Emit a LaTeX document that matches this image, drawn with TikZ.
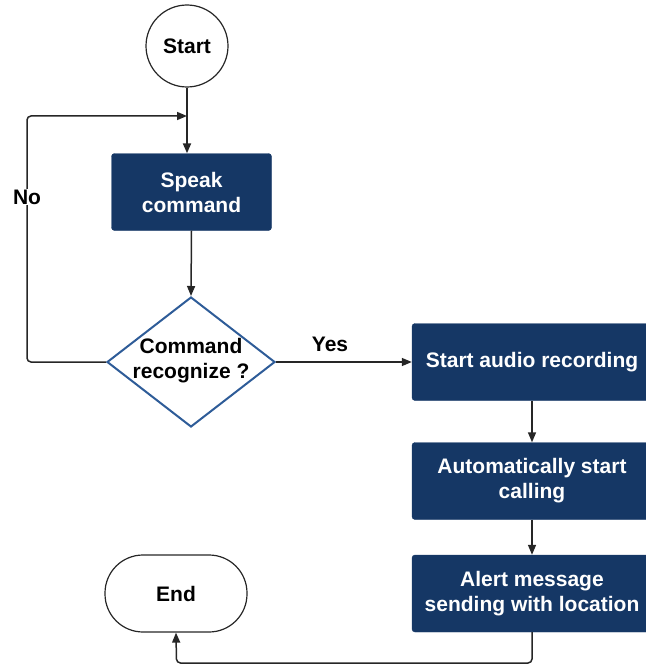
\documentclass[tikz,border=0pt]{standalone}
\usepackage{fontspec}
\setmainfont{Liberation Sans}
\usetikzlibrary{shapes.geometric,arrows.meta}
\definecolor{navy}{RGB}{21,55,101}
\definecolor{dblue}{RGB}{46,92,152}
\tikzset{
  every node/.style={font=\bfseries\fontsize{21}{25}\selectfont},
  procbox/.style={rectangle, fill=navy, draw=navy, rounded corners=3pt, text=white, align=center, inner sep=0pt},
  conn/.style={line width=1.5pt, draw=black!85, -{Triangle[length=10pt,width=8pt]}},
  lbl/.style={text=black, fill=white, inner sep=1pt}
}
\begin{document}
\begin{tikzpicture}[x=1pt,y=-1pt]
\useasboundingbox (0,0) rectangle (645,666);
\node[circle, draw=black!85, line width=1.2pt, minimum size=82pt, inner sep=0pt] (start) at (187,46) {Start};
\node[procbox, minimum width=160pt, minimum height=77pt] (speak) at (191.5,192) {Speak\\command};
\node[diamond, draw=dblue, line width=2pt, minimum width=168pt, minimum height=130pt, inner sep=0pt] (dec) at (191,362) {};
\node[align=center, text=black] (dectext) at (191,361) {Command\\recognize ?};
\node[procbox, minimum width=240pt, minimum height=77pt] (rec) at (532,362) {Start audio recording};
\node[procbox, minimum width=240pt, minimum height=77pt] (call) at (532,481) {Automatically start\\calling};
\node[procbox, minimum width=240pt, minimum height=77pt] (alert) at (532,593.5) {Alert message\\sending with location};
\node[rectangle, rounded corners=38pt, draw=black!85, line width=1.2pt, minimum width=142pt, minimum height=77pt] (end) at (176,593.5) {End};

\coordinate (lbot) at (27,362);
\coordinate (ltop) at (27,116);
\coordinate (ljoin) at (187,116);
\coordinate (abot) at (532,663);
\coordinate (ebot) at (176.5,663);

\draw[conn, line width=2pt] (start.south) -- (start.south |- speak.north);
\draw[conn, rounded corners=4pt] (dec.west) -- (lbot) -- (ltop) -- (ljoin);
\node[lbl] (no) at (27,197) {No};
\draw[conn] (speak.south) -- (dec.north);
\draw[conn] (dec.east) -- (rec.west);
\node[text=black] (yes) at (330,344) {Yes};
\draw[conn] (rec.south) -- (call.north);
\draw[conn] (call.south) -- (alert.north);
\draw[conn, rounded corners=4pt] (alert.south) -- (abot) -- (ebot) -- (end.south);
\end{tikzpicture}
\end{document}
